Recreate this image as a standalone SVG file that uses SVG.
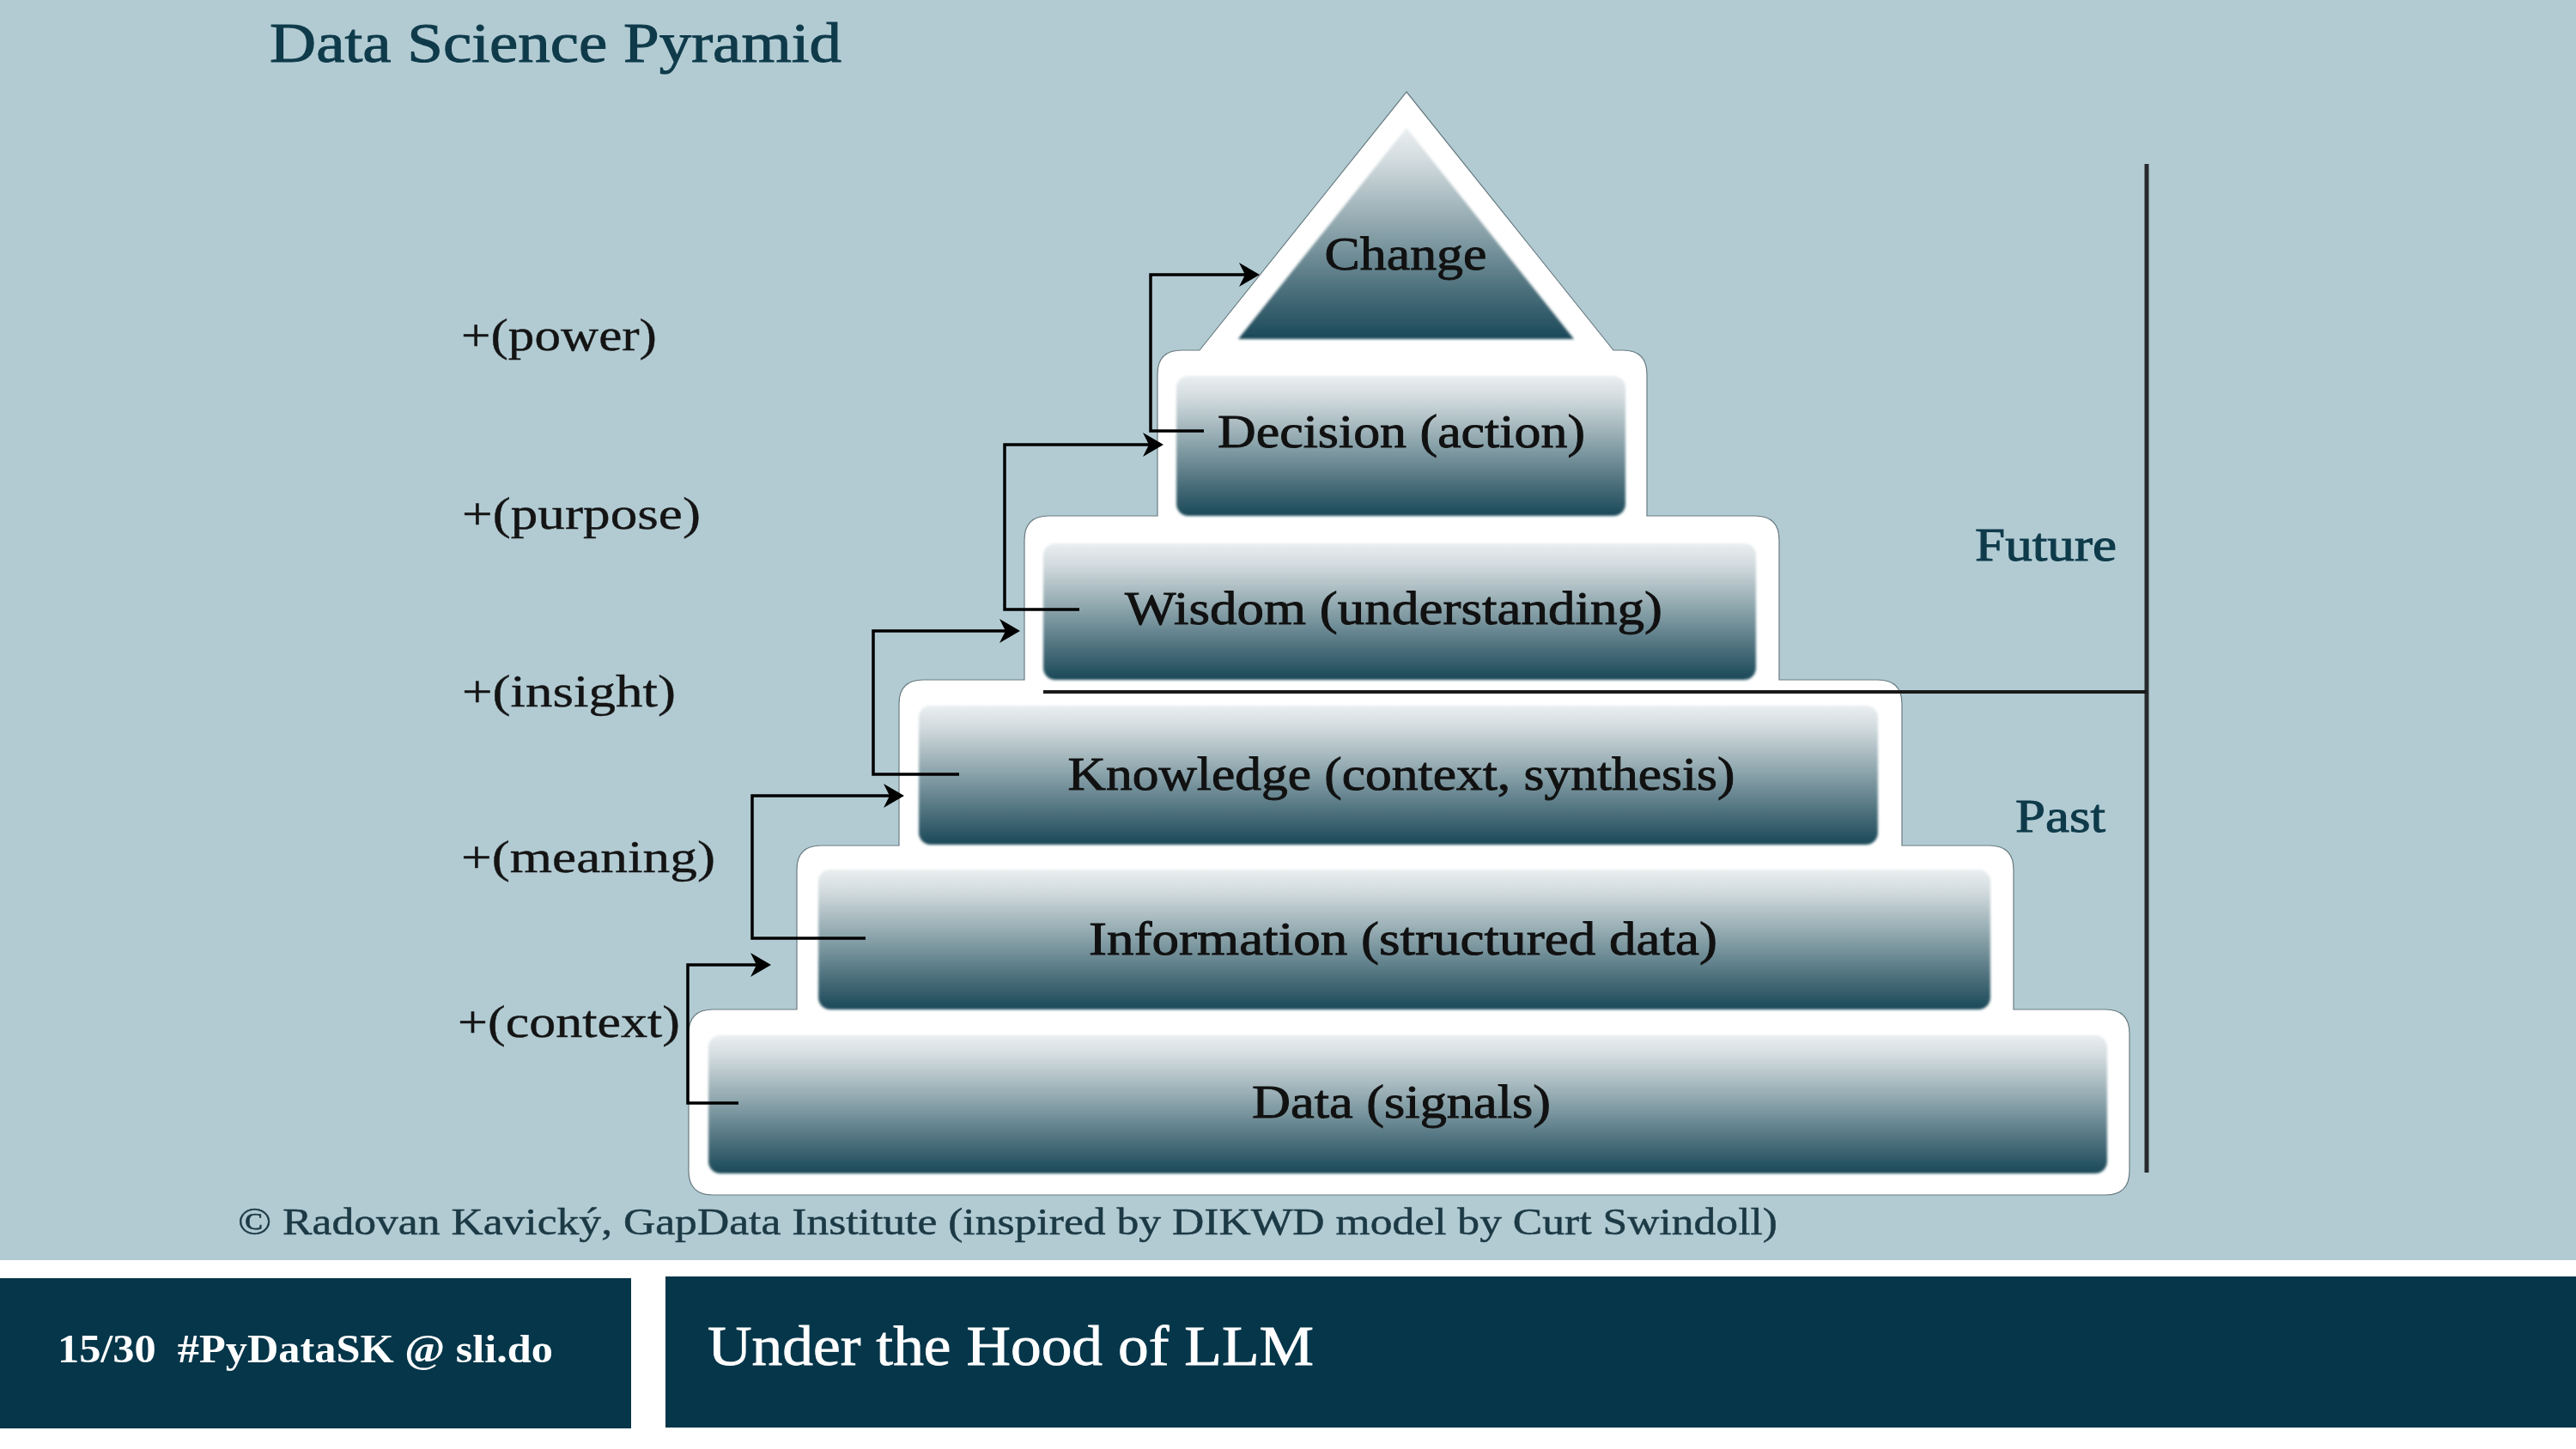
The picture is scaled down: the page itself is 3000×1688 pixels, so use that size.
<svg xmlns="http://www.w3.org/2000/svg" width="3000" height="1688" viewBox="0 0 3000 1688">
<style>
.serif { font-family: "Liberation Serif", "Times New Roman", serif; }
.layer { font-size: 54px; fill: #111111; text-anchor: middle; stroke: #111111; stroke-width: 0.9px; }
.side { font-size: 52px; fill: #141414; stroke: #141414; stroke-width: 0.4px; }
.teal { fill: #0e3a4a; stroke: #0e3a4a; stroke-width: 1px; }
.conn { fill: none; stroke: #000000; stroke-width: 3.5; }
.inner { filter: url(#soft); }
</style>
<defs>
<linearGradient id="g" x1="0" y1="0" x2="0" y2="1">
<stop offset="0" stop-color="#eaeef0"/>
<stop offset="0.15" stop-color="#d3dcdf"/>
<stop offset="0.5" stop-color="#87a0a8"/>
<stop offset="0.8" stop-color="#456a77"/>
<stop offset="1" stop-color="#1a4858"/>
</linearGradient>
<filter id="soft" x="-5%" y="-5%" width="110%" height="110%">
<feGaussianBlur stdDeviation="1.6"/>
</filter>
<marker id="arr" viewBox="0 0 24 28" markerWidth="24" markerHeight="28" markerUnits="userSpaceOnUse" refX="20" refY="14" orient="auto">
<path d="M0,0 L24,14 L0,28 L7,14 Z" fill="#000000"/>
</marker>
</defs>

<rect x="0" y="0" width="3000" height="1688" fill="#ffffff"/>
<rect x="0" y="0" width="3000" height="1468" fill="#b2cbd3"/>

<text class="serif teal" x="314" y="72" font-size="66" textLength="666" lengthAdjust="spacingAndGlyphs">Data Science Pyramid</text>

<!-- white silhouette of the pyramid -->
<path id="silhouette" d="M1638,107 L1879,408 L1890,408 Q1918,408 1918,436 L1918,601 L2044,601 Q2072,601 2072,629 L2072,792 L2187,792 Q2215,792 2215,820 L2215,985 L2317,985 Q2345,985 2345,1013 L2345,1176 L2452,1176 Q2480,1176 2480,1204 L2480,1364 Q2480,1392 2452,1392 L830,1392 Q802,1392 802,1364 L802,1204 Q802,1176 830,1176 L928,1176 L928,1013 Q928,985 956,985 L1047,985 L1047,820 Q1047,792 1075,792 L1193,792 L1193,629 Q1193,601 1221,601 L1348,601 L1348,436 Q1348,408 1376,408 L1397,408 Z" fill="#ffffff" stroke="#6a7c82" stroke-width="1.2"/>

<g id="change">
<path class="inner" d="M1638,149 L1833,395 L1442,395 Z" fill="url(#g)"/>
<text class="serif layer" x="1637" y="314" textLength="189" lengthAdjust="spacingAndGlyphs">Change</text>
</g>
<g id="decision">
<rect class="inner" x="1370" y="438" width="523" height="163" rx="14" fill="url(#g)"/>
<text class="serif layer" x="1632" y="521" textLength="428" lengthAdjust="spacingAndGlyphs">Decision (action)</text>
</g>
<g id="wisdom">
<rect class="inner" x="1215" y="633" width="830" height="159" rx="14" fill="url(#g)"/>
<text class="serif layer" x="1623" y="727" textLength="626" lengthAdjust="spacingAndGlyphs">Wisdom (understanding)</text>
</g>
<g id="knowledge">
<rect class="inner" x="1070" y="822" width="1117" height="162" rx="14" fill="url(#g)"/>
<text class="serif layer" x="1632" y="920" textLength="777" lengthAdjust="spacingAndGlyphs">Knowledge (context, synthesis)</text>
</g>
<g id="information">
<rect class="inner" x="953" y="1013" width="1365" height="163" rx="14" fill="url(#g)"/>
<text class="serif layer" x="1634" y="1112" textLength="732" lengthAdjust="spacingAndGlyphs">Information (structured data)</text>
</g>
<g id="data">
<rect class="inner" x="825" y="1206" width="1629" height="161" rx="14" fill="url(#g)"/>
<text class="serif layer" x="1632" y="1302" textLength="348" lengthAdjust="spacingAndGlyphs">Data (signals)</text>
</g>

<g id="connectors">
<path class="conn" d="M860,1285 H801 V1124 H894" marker-end="url(#arr)"/>
<path class="conn" d="M1008,1093 H876 V927 H1049" marker-end="url(#arr)"/>
<path class="conn" d="M1117,902 H1017 V735 H1184" marker-end="url(#arr)"/>
<path class="conn" d="M1257,710 H1170 V518 H1351" marker-end="url(#arr)"/>
<path class="conn" d="M1402,502 H1340 V320 H1463" marker-end="url(#arr)"/>
</g>

<g id="timeline">
<line x1="2500" y1="191" x2="2500" y2="1366" stroke="#262a2c" stroke-width="5"/>
<line x1="1215" y1="806" x2="2500" y2="806" stroke="#1a1a1a" stroke-width="4"/>
<text class="serif teal" x="2300" y="653" font-size="54" stroke-width="1.4" textLength="165" lengthAdjust="spacingAndGlyphs">Future</text>
<text class="serif teal" x="2347" y="969" font-size="54" stroke-width="1.4" textLength="105" lengthAdjust="spacingAndGlyphs">Past</text>
</g>

<g id="side-labels">
<text class="serif side" x="537" y="408" textLength="228" lengthAdjust="spacingAndGlyphs">+(power)</text>
<text class="serif side" x="538" y="616" textLength="278" lengthAdjust="spacingAndGlyphs">+(purpose)</text>
<text class="serif side" x="538" y="823" textLength="249" lengthAdjust="spacingAndGlyphs">+(insight)</text>
<text class="serif side" x="537" y="1016" textLength="296" lengthAdjust="spacingAndGlyphs">+(meaning)</text>
<text class="serif side" x="533" y="1208" textLength="259" lengthAdjust="spacingAndGlyphs">+(context)</text>
</g>

<text class="serif" x="277" y="1438" font-size="45" fill="#1c3a45" stroke="#1c3a45" stroke-width="0.5" textLength="1793" lengthAdjust="spacingAndGlyphs">© Radovan Kavický, GapData Institute (inspired by DIKWD model by Curt Swindoll)</text>

<g id="footer">
<rect x="0" y="1489" width="735" height="175" fill="#05364a"/>
<rect x="775" y="1487" width="2225" height="176" fill="#05364a"/>
<text class="serif" x="67" y="1587" font-size="46" font-weight="bold" fill="#ffffff" textLength="577" lengthAdjust="spacingAndGlyphs">15/30&#160; #PyDataSK @ sli.do</text>
<text class="serif" x="824" y="1590" font-size="65" fill="#ffffff" stroke="#ffffff" stroke-width="0.8" textLength="706" lengthAdjust="spacingAndGlyphs">Under the Hood of LLM</text>
</g>
</svg>
